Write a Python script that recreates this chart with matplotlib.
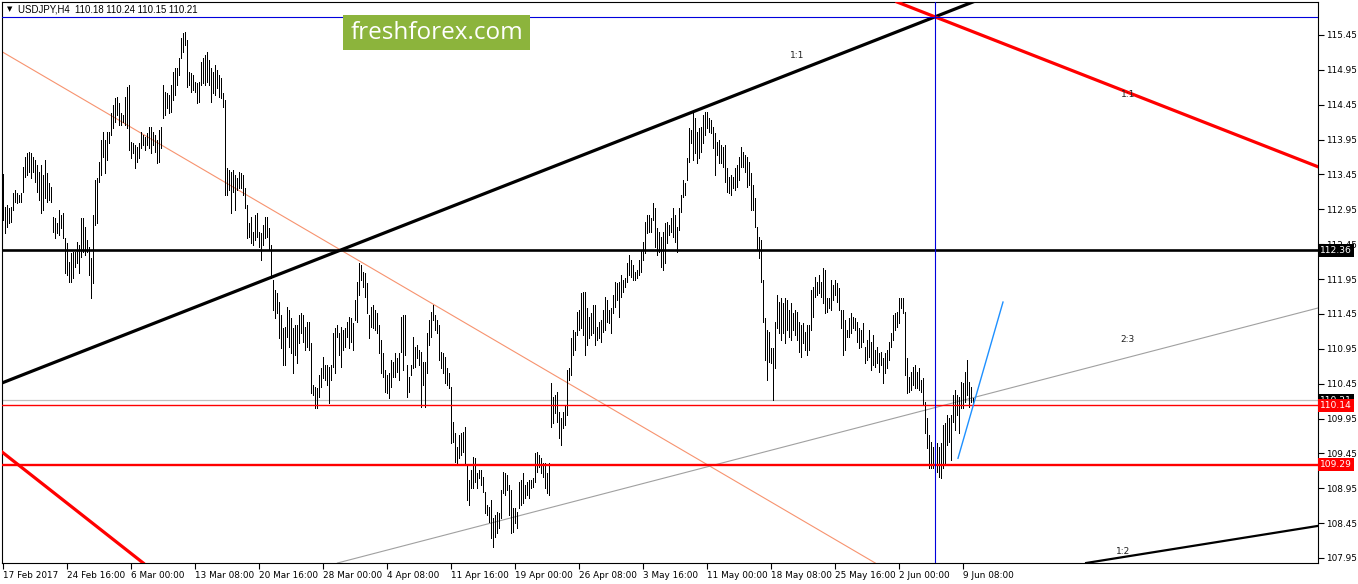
import matplotlib
matplotlib.use('Agg')
import matplotlib.pyplot as plt
from matplotlib.patches import Rectangle
import matplotlib.transforms as mtransforms

# ---------------- data (H4 bars, high / low) ----------------
highs = [
113.46,112.98,113.01,112.97,112.98,113.18,113.23,113.18,113.16,113.18,
113.56,113.70,113.76,113.77,113.76,113.70,113.66,113.59,113.48,113.59,
113.44,113.66,113.47,113.33,113.27,112.84,112.82,112.75,112.94,112.87,
112.90,112.54,112.47,112.19,112.32,112.34,112.34,112.48,112.44,112.82,
112.82,112.70,112.51,112.41,112.25,112.87,113.37,113.40,113.63,113.94,
114.06,113.94,114.06,114.06,114.33,114.45,114.55,114.56,114.47,114.33,
114.30,114.56,114.70,114.73,113.92,113.90,113.87,113.84,113.90,114.06,
114.02,113.99,114.04,114.13,114.13,114.06,114.02,113.94,114.09,114.13,
114.73,114.63,114.62,114.59,114.73,114.92,114.98,114.98,115.12,115.41,
115.48,115.49,115.38,114.92,114.90,114.88,114.78,114.76,114.78,
115.06,115.12,115.16,115.21,115.09,114.98,114.92,115.02,114.95,114.88,
114.83,114.62,114.52,113.54,113.51,113.48,113.51,113.44,113.40,113.48,
113.47,113.44,113.26,113.01,112.75,112.84,112.62,112.87,112.90,112.62,
112.61,112.73,112.84,112.84,112.68,112.44,111.94,111.79,111.75,111.62,
111.43,111.25,111.26,111.55,111.51,111.39,111.25,111.29,111.29,111.43,
111.46,111.43,111.26,111.33,111.33,111.03,110.43,110.40,110.39,110.57,
110.67,110.83,110.72,110.72,110.69,110.72,111.18,111.25,111.29,111.18,
111.26,111.22,111.25,111.33,111.41,111.39,111.32,111.65,111.91,112.18,
112.15,112.05,112.04,111.89,111.43,111.55,111.58,111.51,111.46,111.29,
111.08,110.89,110.65,110.57,110.60,110.79,110.76,110.89,110.82,110.89,
111.41,111.43,111.43,110.72,110.55,110.72,111.12,110.98,111.00,110.93,
110.90,110.76,110.76,111.18,111.36,111.48,111.58,111.43,111.36,111.29,
110.90,110.89,110.83,110.67,110.60,110.40,109.90,109.74,109.54,109.71,
109.74,109.76,109.83,109.28,109.07,109.21,109.40,109.38,109.17,109.21,
109.21,109.11,108.90,108.71,108.68,108.78,108.52,108.57,108.61,108.60,
108.93,109.18,109.17,109.14,109.00,108.93,108.67,108.67,108.61,109.04,
109.07,109.17,109.00,109.04,109.07,109.07,109.10,109.45,109.47,109.43,
109.38,109.31,109.31,109.17,109.31,110.46,110.26,110.29,110.33,110.04,
109.96,110.04,110.14,110.65,110.67,111.10,111.22,111.19,111.48,111.51,
111.75,111.76,111.76,111.53,111.41,111.46,111.58,
111.58,111.26,111.33,111.36,111.51,111.69,111.65,111.51,111.53,111.72,
111.91,111.89,111.91,112.01,111.94,111.97,112.18,112.29,112.22,112.15,
112.05,112.08,112.22,112.37,112.48,112.77,112.87,112.87,112.82,113.04,
112.97,112.68,112.62,112.55,112.62,112.75,112.77,112.73,112.82,112.97,
112.87,112.70,112.97,113.16,113.37,113.33,113.69,114.12,114.09,114.33,
114.26,114.06,114.12,114.13,114.30,114.35,114.35,114.26,114.23,114.13,
114.04,113.92,113.94,113.87,113.84,113.87,113.54,113.41,113.44,113.41,
113.54,113.59,113.70,113.84,113.77,113.73,113.70,113.63,113.47,113.30,
113.11,112.70,112.55,112.51,111.94,111.39,111.22,111.19,110.96,110.96,
111.33,111.72,111.62,111.68,111.61,111.68,111.65,111.51,111.61,111.46,
111.51,111.48,
111.33,111.29,111.32,111.19,111.29,111.29,111.79,111.84,111.98,111.91,
112.01,111.91,112.11,112.08,111.68,111.68,111.94,111.86,111.94,111.89,
111.82,111.51,111.51,111.36,111.22,111.39,111.46,111.41,111.39,111.33,
111.25,111.22,111.32,110.98,111.08,111.22,111.05,111.15,110.93,110.98,
110.89,110.90,110.82,110.89,110.93,111.05,111.18,111.43,111.46,111.48,
111.68,111.68,111.68,111.48,110.82,110.55,110.62,110.69,110.72,110.62,
110.67,110.50,110.53,110.19,109.96,109.71,109.61,109.54,109.53,109.60,
109.54,109.60,109.86,109.89,110.00,109.96,110.00,110.29,110.36,110.29,
110.26,110.47,110.46,110.62,110.79,110.47,110.40,110.24,
]

lows = [
112.80,112.61,112.70,112.75,112.77,112.94,113.05,113.04,113.05,113.05,
113.20,113.41,113.44,113.48,113.40,113.48,113.34,113.20,113.08,112.90,
112.94,113.11,113.05,113.08,113.05,112.62,112.54,112.61,112.58,112.68,
112.54,112.04,112.01,111.91,111.91,111.97,112.12,112.18,112.04,112.27,
112.34,112.29,112.34,112.01,111.68,111.89,112.73,112.75,113.34,113.44,
113.70,113.47,113.66,113.90,114.02,114.12,114.20,114.30,114.16,114.16,
114.20,114.16,114.12,113.80,113.69,113.76,113.54,113.63,113.69,113.83,
113.87,113.80,113.87,113.83,113.76,113.87,113.77,113.61,113.63,113.83,
114.26,114.30,114.40,114.33,114.35,114.52,114.59,114.73,114.88,115.12,
115.21,115.31,114.70,114.73,114.63,114.66,114.63,114.47,114.49,
114.73,114.76,114.73,114.78,114.73,114.49,114.62,114.59,114.69,114.56,
114.55,114.42,113.16,113.16,113.23,112.90,113.20,112.94,113.23,113.26,
113.26,113.16,112.97,112.54,112.55,112.47,112.44,112.51,112.55,112.41,
112.22,112.44,112.54,112.55,112.37,111.97,111.51,111.39,111.46,111.10,
110.96,110.72,110.72,111.12,110.98,110.89,110.60,110.86,110.75,111.03,
111.18,111.05,110.93,110.98,110.93,110.32,110.29,110.10,110.10,110.26,
110.40,110.53,110.50,110.43,110.17,110.50,110.69,110.60,111.12,110.86,
110.69,110.93,110.98,111.12,110.96,111.05,110.93,111.36,111.33,111.72,
111.94,111.84,111.69,111.46,111.10,111.26,111.25,111.22,111.18,110.89,
110.60,110.55,110.33,110.32,110.24,110.40,110.55,110.55,110.62,110.50,
110.90,110.65,110.86,110.26,110.33,110.57,110.67,110.69,110.82,110.72,
110.12,110.43,110.12,110.60,111.00,111.12,111.36,111.22,111.18,110.79,
110.67,110.60,110.46,110.43,110.39,109.60,109.61,109.33,109.31,109.38,
109.43,109.47,109.28,108.78,108.71,108.95,108.95,109.04,108.95,109.10,
109.00,108.90,108.60,108.57,108.47,108.24,108.11,108.25,108.31,108.38,
108.52,108.88,108.85,108.93,108.57,108.31,108.32,108.45,108.38,108.67,
108.71,108.74,108.81,108.85,108.81,108.95,108.97,109.04,109.18,109.25,
109.17,109.11,108.95,108.88,108.85,109.83,109.89,110.03,109.90,109.67,
109.57,109.81,109.86,110.00,110.50,110.57,110.86,110.93,111.15,111.22,
111.25,111.15,110.86,111.00,111.10,111.15,111.18,
111.00,111.08,111.10,111.05,111.19,111.22,111.33,111.32,111.18,111.46,
111.55,111.65,111.41,111.69,111.76,111.84,111.91,112.01,111.98,111.94,
111.94,111.97,112.01,112.05,112.22,112.32,112.61,112.62,112.62,112.80,
112.41,112.29,112.34,112.12,112.08,112.18,112.47,112.58,112.62,112.55,
112.48,112.34,112.65,112.91,113.13,113.16,113.37,113.63,113.90,113.66,
113.76,113.61,113.69,113.77,113.90,114.02,114.12,114.06,114.04,113.83,
113.44,113.73,113.61,113.61,113.56,113.34,113.20,113.18,113.16,113.26,
113.23,113.27,113.37,113.56,113.56,113.48,113.27,113.30,112.94,112.94,
112.70,112.37,112.25,111.91,111.33,110.79,110.50,110.76,110.75,110.22,
110.67,111.25,111.18,111.08,111.18,111.03,111.22,111.12,111.08,111.22,
111.15,111.08,
110.90,110.83,111.03,110.93,110.86,110.93,111.22,111.41,111.69,111.72,
111.75,111.69,111.61,111.46,111.48,111.53,111.51,111.65,111.72,111.62,
111.51,111.25,110.86,110.93,111.12,111.12,111.18,111.25,111.22,111.05,
110.96,110.98,111.05,110.75,110.79,110.83,110.65,110.72,110.69,110.75,
110.62,110.72,110.46,110.60,110.67,110.79,110.98,111.08,111.22,111.26,
111.32,111.53,111.46,110.57,110.32,110.33,110.36,110.43,110.39,110.39,
110.36,110.33,110.14,109.74,109.53,109.24,109.24,109.24,109.11,109.18,
109.11,109.10,109.24,109.31,109.57,109.61,109.35,109.90,109.79,110.00,
109.74,110.10,110.10,110.19,110.29,110.12,110.19,110.15,
]

symbol = "USDJPY,H4"
last_ohlc = [110.18, 110.24, 110.15, 110.21]

date_tick_bars = [0, 32, 64, 96, 128, 160, 192, 224, 256, 288, 320, 352, 384, 416, 448, 480]
date_tick_labels = ["17 Feb 2017", "24 Feb 16:00", "6 Mar 00:00", "13 Mar 08:00",
                    "20 Mar 16:00", "28 Mar 00:00", "4 Apr 08:00", "11 Apr 16:00",
                    "19 Apr 00:00", "26 Apr 08:00", "3 May 16:00", "11 May 00:00",
                    "18 May 08:00", "25 May 16:00", "2 Jun 00:00", "9 Jun 08:00"]
price_ticks = [107.95, 108.45, 108.95, 109.45, 109.95, 110.45, 110.95, 111.45,
               111.95, 112.45, 112.95, 113.45, 113.95, 114.45, 114.95, 115.45]

level_black = 112.36
level_red_1 = 110.14
level_red_2 = 109.29
bid_price = 110.21
cross_bar = 466
cross_price = 115.71

# trend lines: ((bar, price), (bar, price))
fan_black_11 = ((-0.5, 110.46), (466, 115.71))
fan_red_11 = ((466, 115.71), (657.5, 113.56))
red_low_left = ((-0.5, 109.47), (70, 107.88))
salmon_line = ((-0.5, 115.21), (436, 107.88))
gray_23 = ((167.5, 107.88), (657.5, 111.535))
black_12 = ((542, 107.88), (657.5, 108.41))
blue_seg = ((477.5, 109.38), (500, 111.62))

# ---------------- figure ----------------
W, H = 1358, 584
fig = plt.figure(figsize=(W / 100, H / 100), dpi=100)
fig.patch.set_facecolor('white')
ax = fig.add_axes([2 / W, 21 / H, 1316 / W, 561 / H])
ax.set_facecolor('white')
ax.set_xlim(-0.5, 657.5)
ax.set_ylim(107.878, 115.923)

x = list(range(len(highs)))

# lines behind bars
ax.axhline(bid_price, color='#c0c0c0', lw=0.9, zorder=1)
ax.axline(*salmon_line, color='#f7936f', lw=0.8, zorder=1)
ax.axline(*gray_23, color='#a0a0a0', lw=0.8, zorder=1)

ax.vlines(x, lows, highs, colors='black', linewidth=0.5, antialiased=False, zorder=2)

ax.axhline(level_black, color='black', lw=1.9, zorder=3)
ax.axhline(level_red_1, color='#ff0000', lw=1.0, zorder=3)
ax.axhline(level_red_2, color='#ff0000', lw=1.7, zorder=3)
ax.axline(*fan_black_11, color='black', lw=2.3, zorder=3)
ax.axline(*fan_red_11, color='#ff0000', lw=2.3, zorder=3)
ax.axline(*red_low_left, color='#ff0000', lw=2.3, zorder=3)
ax.axline(*black_12, color='black', lw=1.6, zorder=3)
ax.plot([blue_seg[0][0], blue_seg[1][0]], [blue_seg[0][1], blue_seg[1][1]],
        color='#1e90ff', lw=1.0, zorder=3)
ax.axvline(cross_bar, color='#0000dd', lw=0.8, zorder=3)
ax.axhline(cross_price, color='#0000dd', lw=0.8, zorder=3)

# fan labels
lab_kw = dict(fontsize=6.5, color='#202020', ha='center', va='center', zorder=4)
ax.text(397, 115.15, "1:1", **lab_kw)
ax.text(562.5, 114.60, "1:1", **lab_kw)
ax.text(562, 111.08, "2:3", **lab_kw)
ax.text(560, 108.05, "1:2", **lab_kw)

# axes styling
for s in ax.spines.values():
    s.set_color('black')
    s.set_linewidth(0.8)
ax.yaxis.tick_right()
ax.set_yticks(price_ticks)
ax.set_yticklabels([f"{p:.2f}" for p in price_ticks])
ax.tick_params(axis='y', direction='out', length=4, width=0.8, labelsize=6.4, pad=2, colors='black')
ax.set_xticks(date_tick_bars)
ax.set_xticklabels(date_tick_labels)
for t in ax.get_xticklabels():
    t.set_horizontalalignment('left')
ax.tick_params(axis='x', direction='out', length=4, width=0.8, labelsize=6.4, pad=2, colors='black')

# right-side price boxes
trans = mtransforms.blended_transform_factory(ax.transAxes, ax.transData)
def price_box(p, fc):
    ax.text(1.0015, p, f"{p:.2f}", transform=trans, ha='left', va='center',
            fontsize=6.6, color='white', clip_on=False, zorder=6,
            bbox=dict(boxstyle='square,pad=0.2', fc=fc, ec='none'))
price_box(level_black, 'black')
price_box(bid_price, 'black')
price_box(level_red_1, '#ff0000')
price_box(level_red_2, '#ff0000')

# header
fig.text(7 / W, 1 - 9.5 / H, "\u25bc", fontsize=5, va='center', ha='left', color='black')
fig.text(18 / W, 1 - 9.5 / H,
         f"{symbol}  " + " ".join(f"{v:.2f}" for v in last_ohlc),
         fontsize=6.9, family='Liberation Sans', va='center', ha='left', color='black')

# watermark
fig.patches.append(Rectangle((343 / W, 1 - 50 / H), 187 / W, 35 / H,
                             transform=fig.transFigure, fc='#8cb43c', ec='none', zorder=5))
fig.text(436.5 / W, 1 - 33 / H, "freshforex.com", fontsize=17.5, family='Open Sans',
         color='white', ha='center', va='center', zorder=6)

fig.savefig('out.png', dpi=100, facecolor='white')
